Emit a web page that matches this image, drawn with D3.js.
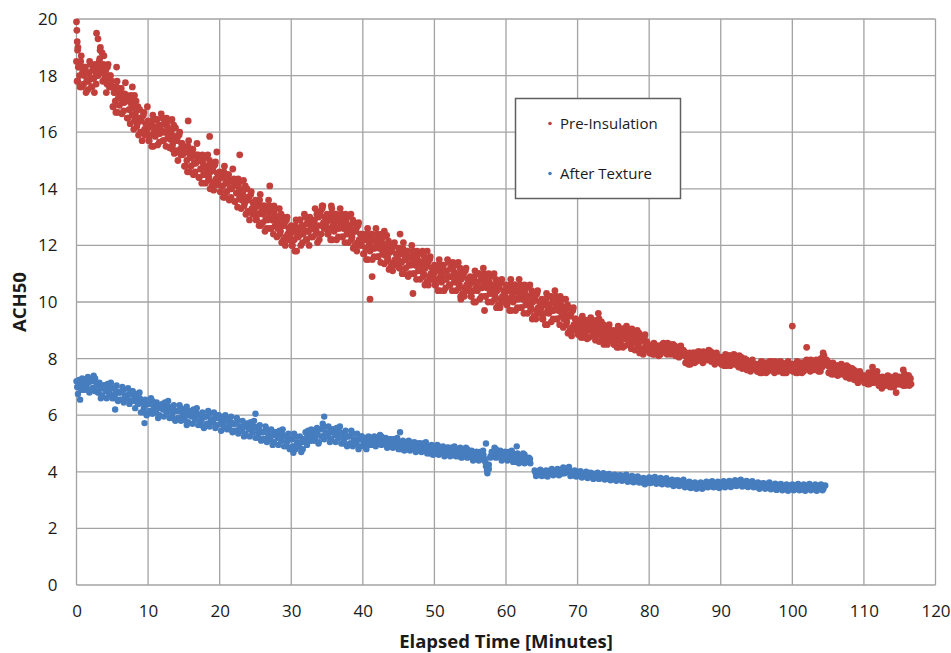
<!DOCTYPE html>
<html>
<head>
<meta charset="utf-8">
<script src="https://cdn.jsdelivr.net/npm/d3@7/dist/d3.min.js"></script>
<style>
html,body{margin:0;padding:0;background:#fff;}
svg{display:block;}
text{font-family:"Open Sans","Noto Sans",sans-serif;fill:#1a1a1a;}
</style>
</head>
<body>
<svg id="chart" width="951" height="653"></svg>
<script>
// ---- tick labels ----
const xTicks = [0,10,20,30,40,50,60,70,80,90,100,110,120];
const yTicks = [0,2,4,6,8,10,12,14,16,18,20];
const seriesNames = ["Pre-Insulation","After Texture"];

// ---- Pre-Insulation readings, batch A: one row per elapsed minute (row index = minute) ----
const preRowsA = [
[18.5,17.8,18.3,17.6,18.7,18.1],
[17.7,18.3,17.4,18.1,17.8,18.5],
[18.4,17.6,17.9,17.4,18.1,18.3],
[18.0,18.5,19.0,18.2,17.8,18.7],
[18.1,17.4,18.3,17.8,18.0,17.6],
[17.6,16.9,17.4,16.7,17.8,17.2],
[16.95,17.55,16.65,17.35,17.05,17.75],
[17.3,16.5,16.8,16.3,17.0,17.2],
[16.1,16.6,17.1,16.3,15.9,16.8],
[16.4,15.7,16.6,16.1,16.3,15.9],
[16.4,15.7,16.2,15.5,16.6,16.0],
[15.85,16.45,15.55,16.25,15.95,16.65],
[16.5,15.7,16.0,15.5,16.2,16.4],
[15.45,15.95,16.45,15.65,15.25,16.15],
[15.7,15.0,15.9,15.4,15.6,15.2],
[15.5,14.8,15.3,14.6,15.7,15.1],
[14.8,15.4,14.5,15.2,14.9,15.6],
[15.2,14.4,14.7,14.2,14.9,15.1],
[14.2,14.7,15.2,14.4,14.0,14.9],
[14.65,13.95,14.85,14.35,14.55,14.15],
[14.6,13.9,14.4,13.7,14.8,14.2],
[13.9,14.5,13.6,14.3,14.0,14.7],
[14.35,13.55,13.85,13.35,14.05,14.25],
[13.3,13.8,14.3,13.5,13.1,14.0],
[13.6,12.9,13.8,13.3,13.5,13.1],
[13.6,12.9,13.4,12.7,13.8,13.2],
[12.8,13.4,12.5,13.2,12.9,13.6],
[13.4,12.6,12.9,12.4,13.1,13.3],
[12.3,12.8,13.3,12.5,12.1,13.0],
[12.7,12.0,12.9,12.4,12.6,12.2],
[12.7,12.0,12.5,11.8,12.9,12.3],
[12.3,12.9,12.0,12.7,12.4,13.1],
[13.0,12.2,12.5,12.0,12.7,12.9],
[12.3,12.8,13.3,12.5,12.1,13.0],
[13.1,12.4,13.3,12.8,13.0,12.6],
[13.1,12.4,12.9,12.2,13.3,12.7],
[12.5,13.1,12.2,12.9,12.6,13.3],
[13.1,12.3,12.6,12.1,12.8,13.0],
[12.1,12.6,13.1,12.3,11.9,12.8],
[12.5,11.8,12.7,12.2,12.4,12.0],
[12.4,11.7,12.2,11.5,12.6,12.0],
[11.8,12.4,11.5,12.2,11.9,12.6],
[12.4,11.6,11.9,11.4,12.1,12.3],
[11.35,11.85,12.35,11.55,11.15,12.05],
[11.8,11.1,12.0,11.5,11.7,11.3],
[11.9,11.2,11.7,11.0,12.1,11.5],
[11.2,11.8,10.9,11.6,11.3,12.0],
[11.8,11.0,11.3,10.8,11.5,11.7],
[10.8,11.3,11.8,11.0,10.6,11.5],
[11.3,10.6,11.5,11.0,11.2,10.8],
[11.3,10.6,11.1,10.4,11.5,10.9],
[10.7,11.3,10.4,11.1,10.8,11.5],
[11.4,10.6,10.9,10.4,11.1,11.3],
[10.4,10.9,11.4,10.6,10.2,11.1],
[10.9,10.2,11.1,10.6,10.8,10.4],
[10.9,10.2,10.7,10.0,11.1,10.5],
[10.4,11.0,10.1,10.8,10.5,11.2],
[11.0,10.2,10.5,10.0,10.7,10.9],
[10.0,10.5,11.0,10.2,9.8,10.7],
[10.5,9.8,10.7,10.2,10.4,10.0],
[10.6,9.9,10.4,9.7,10.8,10.2],
[10.0,10.6,9.7,10.4,10.1,10.8],
[10.6,9.8,10.1,9.6,10.3,10.5],
[9.6,10.1,10.6,9.8,9.4,10.3],
[10.1,9.4,10.3,9.8,10.0,9.6],
[10.1,9.4,9.9,9.2,10.3,9.7],
[9.6,10.2,9.3,10.0,9.7,10.4],
[10.2,9.4,9.7,9.2,9.9,10.1],
[9.1,9.6,10.1,9.3,8.9,9.8],
[9.5,8.8,9.7,9.2,9.4,9.0],
[9.35,8.85,9.25,8.75,9.5,9.05],
[8.9,9.35,8.7,9.2,9.0,9.45],
[9.35,8.8,9.0,8.65,9.15,9.25],
[8.6,8.95,9.3,8.75,8.5,9.1],
[9.0,8.5,9.1,8.8,8.95,8.65],
[9.0,8.5,8.9,8.4,9.15,8.7],
[8.6,9.05,8.4,8.9,8.7,9.15],
[9.05,8.5,8.7,8.35,8.85,8.95],
[8.3,8.65,9.0,8.45,8.2,8.8],
[8.65,8.15,8.75,8.45,8.6,8.3],
[8.45,8.2,8.4,8.15,8.55,8.3],
[8.2,8.45,8.1,8.35,8.3,8.5],
[8.55,8.25,8.35,8.15,8.45,8.5],
[8.15,8.35,8.5,8.25,8.1,8.4],
[8.35,8.05,8.4,8.2,8.3,8.15],
[8.1,7.85,8.05,7.8,8.2,7.95],
[7.95,8.2,7.85,8.1,8.05,8.25],
[8.25,7.95,8.05,7.85,8.15,8.2],
[7.95,8.15,8.3,8.05,7.9,8.2],
[8.1,7.8,8.15,7.95,8.05,7.9],
[8.05,7.8,8.0,7.75,8.15,7.9],
[7.85,8.1,7.75,8.0,7.95,8.15],
[8.1,7.8,7.9,7.7,8.0,8.05],
[7.65,7.85,8.0,7.75,7.6,7.9],
[7.85,7.55,7.9,7.7,7.8,7.65],
[7.8,7.55,7.75,7.5,7.9,7.65],
[7.6,7.85,7.5,7.75,7.7,7.9],
[7.9,7.6,7.7,7.5,7.8,7.85],
[7.55,7.75,7.9,7.65,7.5,7.8],
[7.8,7.5,7.85,7.65,7.75,7.6],
[7.8,7.55,7.75,7.5,7.9,7.65],
[7.6,7.85,7.5,7.75,7.7,7.9],
[7.95,7.65,7.75,7.55,7.85,7.9],
[7.6,7.8,7.95,7.7,7.55,7.85],
[8.0,7.7,8.05,7.85,7.95,7.8],
[7.75,7.5,7.7,7.45,7.85,7.6],
[7.5,7.75,7.4,7.65,7.6,7.8],
[7.75,7.45,7.55,7.35,7.65,7.7],
[7.3,7.5,7.65,7.4,7.25,7.55],
[7.45,7.15,7.5,7.3,7.4,7.25],
[7.4,7.15,7.35,7.1,7.5,7.25],
[7.25,7.5,7.15,7.4,7.35,7.55],
[7.35,7.05,7.15,6.95,7.25,7.3],
[7.05,7.25,7.4,7.15,7.0,7.3],
[7.3,7.0,7.35,7.15,7.25,7.1],
[7.35,7.1,7.3,7.05,7.45,7.2],
[7.15,7.4,7.05,7.3]
];
// ---- Pre-Insulation readings, batch B (taken between the batch A readings) ----
const preRowsB = [
[17.8,18.3,18.0,18.5,17.6,18.3],
[18.0,18.3,17.8,17.5,18.1,17.9],
[17.6,18.2,17.9,18.4,17.7,18.0],
[18.3,18.6,18.1,18.8,18.4,17.9],
[18.2,17.7,18.4,17.6,18.0,17.8],
[16.9,17.4,17.1,17.6,16.7,17.4],
[17.25,17.55,17.05,16.75,17.35,17.15],
[16.5,17.1,16.8,17.3,16.6,16.9],
[16.4,16.7,16.2,16.9,16.5,16.0],
[16.5,16.0,16.7,15.9,16.3,16.1],
[15.7,16.2,15.9,16.4,15.5,16.2],
[16.15,16.45,15.95,15.65,16.25,16.05],
[15.7,16.3,16.0,16.5,15.8,16.1],
[15.75,16.05,15.55,16.25,15.85,15.35],
[15.8,15.3,16.0,15.2,15.6,15.4],
[14.8,15.3,15.0,15.5,14.6,15.3],
[15.1,15.4,14.9,14.6,15.2,15.0],
[14.4,15.0,14.7,15.2,14.5,14.8],
[14.5,14.8,14.3,15.0,14.6,14.1],
[14.75,14.25,14.95,14.15,14.55,14.35],
[13.9,14.4,14.1,14.6,13.7,14.4],
[14.2,14.5,14.0,13.7,14.3,14.1],
[13.55,14.15,13.85,14.35,13.65,13.95],
[13.6,13.9,13.4,14.1,13.7,13.2],
[13.7,13.2,13.9,13.1,13.5,13.3],
[12.9,13.4,13.1,13.6,12.7,13.4],
[13.1,13.4,12.9,12.6,13.2,13.0],
[12.6,13.2,12.9,13.4,12.7,13.0],
[12.6,12.9,12.4,13.1,12.7,12.2],
[12.8,12.3,13.0,12.2,12.6,12.4],
[12.0,12.5,12.2,12.7,11.8,12.5],
[12.6,12.9,12.4,12.1,12.7,12.5],
[12.2,12.8,12.5,13.0,12.3,12.6],
[12.6,12.9,12.4,13.1,12.7,12.2],
[13.2,12.7,13.4,12.6,13.0,12.8],
[12.4,12.9,12.6,13.1,12.2,12.9],
[12.8,13.1,12.6,12.3,12.9,12.7],
[12.3,12.9,12.6,13.1,12.4,12.7],
[12.4,12.7,12.2,12.9,12.5,12.0],
[12.6,12.1,12.8,12.0,12.4,12.2],
[11.7,12.2,11.9,12.4,11.5,12.2],
[12.1,12.4,11.9,11.6,12.2,12.0],
[11.6,12.2,11.9,12.4,11.7,12.0],
[11.65,11.95,11.45,12.15,11.75,11.25],
[11.9,11.4,12.1,11.3,11.7,11.5],
[11.2,11.7,11.4,11.9,11.0,11.7],
[11.5,11.8,11.3,11.0,11.6,11.4],
[11.0,11.6,11.3,11.8,11.1,11.4],
[11.1,11.4,10.9,11.6,11.2,10.7],
[11.4,10.9,11.6,10.8,11.2,11.0],
[10.6,11.1,10.8,11.3,10.4,11.1],
[11.0,11.3,10.8,10.5,11.1,10.9],
[10.6,11.2,10.9,11.4,10.7,11.0],
[10.7,11.0,10.5,11.2,10.8,10.3],
[11.0,10.5,11.2,10.4,10.8,10.6],
[10.2,10.7,10.4,10.9,10.0,10.7],
[10.7,11.0,10.5,10.2,10.8,10.6],
[10.2,10.8,10.5,11.0,10.3,10.6],
[10.3,10.6,10.1,10.8,10.4,9.9],
[10.6,10.1,10.8,10.0,10.4,10.2],
[9.9,10.4,10.1,10.6,9.7,10.4],
[10.3,10.6,10.1,9.8,10.4,10.2],
[9.8,10.4,10.1,10.6,9.9,10.2],
[9.9,10.2,9.7,10.4,10.0,9.5],
[10.2,9.7,10.4,9.6,10.0,9.8],
[9.4,9.9,9.6,10.1,9.2,9.9],
[9.9,10.2,9.7,9.4,10.0,9.8],
[9.4,10.0,9.7,10.2,9.5,9.8],
[9.4,9.7,9.2,9.9,9.5,9.0],
[9.6,9.1,9.8,9.0,9.4,9.2],
[8.85,9.2,9.0,9.35,8.75,9.25],
[9.1,9.35,9.0,8.75,9.2,9.05],
[8.8,9.2,9.0,9.35,8.85,9.05],
[8.85,9.05,8.7,9.2,8.9,8.55],
[9.05,8.7,9.2,8.65,8.9,8.8],
[8.5,8.85,8.65,9.0,8.4,8.9],
[8.8,9.05,8.7,8.45,8.9,8.75],
[8.5,8.9,8.7,9.05,8.55,8.75],
[8.55,8.75,8.4,8.9,8.6,8.25],
[8.7,8.35,8.85,8.3,8.55,8.45],
[8.2,8.4,8.3,8.45,8.15,8.4],
[8.35,8.45,8.3,8.15,8.4,8.3],
[8.25,8.45,8.35,8.55,8.3,8.4],
[8.25,8.4,8.2,8.45,8.3,8.1],
[8.35,8.2,8.45,8.15,8.3,8.25],
[7.85,8.05,7.95,8.1,7.8,8.05],
[8.1,8.2,8.05,7.9,8.15,8.05],
[7.95,8.15,8.05,8.25,8.0,8.1],
[8.05,8.2,8.0,8.25,8.1,7.9],
[8.1,7.95,8.2,7.9,8.05,8.0],
[7.8,8.0,7.9,8.05,7.75,8.0],
[8.0,8.1,7.95,7.8,8.05,7.95],
[7.8,8.0,7.9,8.1,7.85,7.95],
[7.75,7.9,7.7,7.95,7.8,7.6],
[7.85,7.7,7.95,7.65,7.8,7.75],
[7.55,7.75,7.65,7.8,7.5,7.75],
[7.75,7.85,7.7,7.55,7.8,7.7],
[7.6,7.8,7.7,7.9,7.65,7.75],
[7.65,7.8,7.6,7.85,7.7,7.5],
[7.8,7.65,7.9,7.6,7.75,7.7],
[7.55,7.75,7.65,7.8,7.5,7.75],
[7.75,7.85,7.7,7.55,7.8,7.7],
[7.65,7.85,7.75,7.95,7.7,7.8],
[7.7,7.85,7.65,7.9,7.75,7.55],
[8.0,7.85,8.1,7.8,7.95,7.9],
[7.5,7.7,7.6,7.75,7.45,7.7],
[7.65,7.75,7.6,7.45,7.7,7.6],
[7.45,7.65,7.55,7.75,7.5,7.6],
[7.4,7.55,7.35,7.6,7.45,7.25],
[7.45,7.3,7.55,7.25,7.4,7.35],
[7.15,7.35,7.25,7.4,7.1,7.35],
[7.4,7.5,7.35,7.2,7.45,7.35],
[7.05,7.25,7.15,7.35,7.1,7.2],
[7.15,7.3,7.1,7.35,7.2,7.0],
[7.3,7.15,7.4,7.1,7.25,7.2],
[7.1,7.3,7.2,7.35,7.05,7.3],
[7.3,7.4,7.25,7.1]
];
// isolated Pre-Insulation readings [minute, ACH50]
const preExtra = [
[0.0,19.9],[0.05,19.6],[0.1,19.2],[0.15,18.9],[0.2,19.0],[2.8,19.5],[3.0,19.3],[3.3,18.9],
[5.6,18.3],[7.8,17.6],[8.1,17.3],[9.9,16.9],[11.7,16.2],[13.4,15.4],[15.6,16.4],[18.6,15.85],
[19.6,15.3],[22.8,15.2],[27.0,14.1],[34.3,13.4],[35.6,13.4],[36.1,13.0],[41.0,10.1],[41.3,10.9],
[47.0,10.3],[45.2,12.4],[43.0,12.5],[49.0,11.8],[53.7,10.1],[57.0,9.7],[72.9,9.6],[73.0,9.4],
[100.0,9.15],[102.0,8.4],[114.5,6.8],[104.3,8.2],[111.2,7.7],[115.5,7.6]
];

// ---- After Texture readings, batch A: one row per elapsed minute ----
const afterRowsA = [
[7.2,6.75,7.05,6.9,7.3],
[6.9,7.25,7.05,7.35,6.8],
[7.2,6.95,7.4,6.85,7.1],
[6.8,7.15,6.6,6.95,7.05],
[7.05,6.6,6.9,6.75,7.15],
[6.6,6.95,6.75,7.05,6.5],
[6.8,6.55,7.0,6.45,6.7],
[6.6,6.95,6.4,6.75,6.85],
[6.7,6.25,6.55,6.4,6.8],
[6.1,6.45,6.25,6.55,6.0],
[6.4,6.15,6.6,6.05,6.3],
[6.1,6.45,5.9,6.25,6.35],
[6.4,5.95,6.25,6.1,6.5],
[5.9,6.25,6.05,6.35,5.8],
[6.15,5.9,6.35,5.8,6.05],
[5.85,6.2,5.65,6.0,6.1],
[6.15,5.7,6.0,5.85,6.25],
[5.65,6.0,5.8,6.1,5.55],
[5.95,5.7,6.15,5.6,5.85],
[5.75,6.1,5.55,5.9,6.0],
[5.9,5.45,5.75,5.6,6.0],
[5.5,5.85,5.65,5.95,5.4],
[5.7,5.45,5.9,5.35,5.6],
[5.45,5.8,5.25,5.6,5.7],
[5.7,5.25,5.55,5.4,5.8],
[5.2,5.55,5.35,5.65,5.1],
[5.4,5.15,5.6,5.05,5.3],
[5.15,5.5,4.95,5.3,5.4],
[5.4,4.95,5.25,5.1,5.5],
[4.9,5.25,5.05,5.35,4.8],
[5.15,4.9,5.35,4.8,5.05],
[4.9,5.25,4.7,5.05,5.15],
[5.4,4.95,5.25,5.1,5.5],
[5.1,5.45,5.25,5.55,5.0],
[5.5,5.25,5.7,5.15,5.4],
[5.25,5.6,5.05,5.4,5.5],
[5.5,5.05,5.35,5.2,5.6],
[5.0,5.35,5.15,5.45,4.9],
[5.25,5.0,5.45,4.9,5.15],
[5.0,5.35,4.8,5.15,5.25],
[5.2,4.9,5.1,4.95,5.25],
[4.95,5.2,5.05,5.25,4.9],
[5.15,5.0,5.3,4.95,5.1],
[5.0,5.2,4.85,5.1,5.15],
[5.15,4.85,5.05,4.9,5.2],
[4.8,5.05,4.9,5.1,4.75],
[4.95,4.8,5.1,4.75,4.9],
[4.85,5.05,4.7,4.95,5.0],
[5.0,4.7,4.9,4.75,5.05],
[4.65,4.9,4.75,4.95,4.6],
[4.8,4.65,4.95,4.6,4.75],
[4.7,4.9,4.55,4.8,4.85],
[4.85,4.55,4.75,4.6,4.9],
[4.55,4.8,4.65,4.85,4.5],
[4.7,4.55,4.85,4.5,4.65],
[4.55,4.75,4.4,4.65,4.7],
[4.7,4.4,4.6,4.45,4.75],
[4.45,4.2,3.95,4.1,4.5],
[4.7,4.55,4.85,4.5,4.65],
[4.55,4.75,4.4,4.65,4.7],
[4.7,4.4,4.6,4.45,4.75],
[4.35,4.6,4.45,4.65,4.3],
[4.5,4.35,4.65,4.3,4.45],
[4.35,4.5,4.3],
[4.05,3.85,4.0,3.9,4.07],
[3.85,4.0,3.9,4.05,3.83],
[4.03,3.93,4.1,3.88,3.98],
[3.95,4.1,3.88,4.02,4.07],
[4.15,3.95,4.1,4.0,4.17],
[3.85,4.0,3.9,4.05,3.83],
[3.95,3.85,4.02,3.8,3.9],
[3.85,4.0,3.78,3.92,3.97],
[3.95,3.75,3.9,3.8,3.97],
[3.75,3.9,3.8,3.95,3.73],
[3.85,3.75,3.92,3.7,3.8],
[3.75,3.9,3.68,3.82,3.87],
[3.88,3.68,3.83,3.73,3.9],
[3.65,3.8,3.7,3.85,3.63],
[3.77,3.67,3.84,3.62,3.72],
[3.63,3.78,3.56,3.7,3.75],
[3.8,3.6,3.75,3.65,3.82],
[3.58,3.73,3.63,3.78,3.56],
[3.7,3.6,3.77,3.55,3.65],
[3.57,3.72,3.5,3.64,3.69],
[3.7,3.5,3.65,3.55,3.72],
[3.45,3.6,3.5,3.65,3.43],
[3.55,3.45,3.62,3.4,3.5],
[3.47,3.62,3.4,3.54,3.59],
[3.65,3.45,3.6,3.5,3.67],
[3.45,3.6,3.5,3.65,3.43],
[3.6,3.5,3.67,3.45,3.55],
[3.53,3.68,3.46,3.6,3.65],
[3.7,3.5,3.65,3.55,3.72],
[3.48,3.63,3.53,3.68,3.46],
[3.6,3.5,3.67,3.45,3.55],
[3.47,3.62,3.4,3.54,3.59],
[3.6,3.4,3.55,3.45,3.62],
[3.38,3.53,3.43,3.58,3.36],
[3.5,3.4,3.57,3.35,3.45],
[3.4,3.55,3.33,3.47,3.52],
[3.55,3.35,3.5,3.4,3.57],
[3.35,3.5,3.4,3.55,3.33],
[3.5,3.4,3.57,3.35,3.45],
[3.4,3.55,3.33,3.47,3.52],
[3.55,3.35,3.5]
];
// ---- After Texture readings, batch B ----
const afterRowsB = [
[7.0,7.25,6.9,7.1],[7.25,6.9,7.15,6.85],[7.2,6.95,7.3,7.05],[6.8,6.95,6.7,7.05],
[6.85,7.1,6.75,6.95],[6.95,6.6,6.85,6.55],[6.8,6.55,6.9,6.65],[6.6,6.75,6.5,6.85],
[6.5,6.75,6.4,6.6],[6.45,6.1,6.35,6.05],[6.4,6.15,6.5,6.25],[6.1,6.25,6.0,6.35],
[6.2,6.45,6.1,6.3],[6.25,5.9,6.15,5.85],[6.15,5.9,6.25,6.0],[5.85,6.0,5.75,6.1],
[5.95,6.2,5.85,6.05],[6.0,5.65,5.9,5.6],[5.95,5.7,6.05,5.8],[5.75,5.9,5.65,6.0],
[5.7,5.95,5.6,5.8],[5.85,5.5,5.75,5.45],[5.7,5.45,5.8,5.55],[5.45,5.6,5.35,5.7],
[5.5,5.75,5.4,5.6],[5.55,5.2,5.45,5.15],[5.4,5.15,5.5,5.25],[5.15,5.3,5.05,5.4],
[5.2,5.45,5.1,5.3],[5.25,4.9,5.15,4.85],[5.15,4.9,5.25,5.0],[4.9,5.05,4.8,5.15],
[5.2,5.45,5.1,5.3],[5.45,5.1,5.35,5.05],[5.5,5.25,5.6,5.35],[5.25,5.4,5.15,5.5],
[5.3,5.55,5.2,5.4],[5.35,5.0,5.25,4.95],[5.25,5.0,5.35,5.1],[5.0,5.15,4.9,5.25],
[5.05,5.2,4.95,5.1],[5.2,4.95,5.15,5.0],[5.15,5.0,5.25,5.05],[5.0,5.1,4.9,5.15],
[5.0,5.15,4.9,5.05],[5.05,4.8,5.0,4.85],[4.95,4.8,5.05,4.85],[4.85,4.95,4.75,5.0],
[4.85,5.0,4.75,4.9],[4.9,4.65,4.85,4.7],[4.8,4.65,4.9,4.7],[4.7,4.8,4.6,4.85],
[4.7,4.85,4.6,4.75],[4.8,4.55,4.75,4.6],[4.7,4.55,4.8,4.6],[4.55,4.65,4.45,4.7],
[4.55,4.7,4.45,4.6],[4.35,4.05,4.25,4.55],[4.7,4.55,4.8,4.6],[4.55,4.65,4.45,4.7],
[4.55,4.7,4.45,4.6],[4.6,4.35,4.55,4.4],[4.5,4.35,4.6,4.4],[4.4,4.45],
[3.98,3.89,4.03,3.92],[3.91,3.99,3.87,4.01],[3.98,4.07,3.93,4.01],[4.06,3.91,4.02,3.94],
[4.08,3.99,4.13,4.02],[3.91,3.99,3.87,4.01],[3.9,3.99,3.85,3.93],[3.96,3.81,3.92,3.84],
[3.88,3.79,3.93,3.82],[3.81,3.89,3.77,3.91],[3.8,3.89,3.75,3.83],[3.86,3.71,3.82,3.74],
[3.81,3.72,3.86,3.75],[3.71,3.79,3.67,3.81],[3.72,3.81,3.67,3.75],[3.74,3.59,3.7,3.62],
[3.73,3.64,3.78,3.67],[3.64,3.72,3.6,3.74],[3.65,3.74,3.6,3.68],[3.68,3.53,3.64,3.56],
[3.63,3.54,3.68,3.57],[3.51,3.59,3.47,3.61],[3.5,3.59,3.45,3.53],[3.58,3.43,3.54,3.46],
[3.58,3.49,3.63,3.52],[3.51,3.59,3.47,3.61],[3.55,3.64,3.5,3.58],[3.64,3.49,3.6,3.52],
[3.63,3.54,3.68,3.57],[3.54,3.62,3.5,3.64],[3.55,3.64,3.5,3.58],[3.58,3.43,3.54,3.46],
[3.53,3.44,3.58,3.47],[3.44,3.52,3.4,3.54],[3.45,3.54,3.4,3.48],[3.51,3.36,3.47,3.39],
[3.48,3.39,3.53,3.42],[3.41,3.49,3.37,3.51],[3.45,3.54,3.4,3.48],[3.51,3.36,3.47,3.39],
[3.48,3.4,3.52]
];
const afterExtra = [
[0.5,6.55],[5.4,6.2],[9.5,5.72],[15.4,6.3],[25.0,6.05],[30.3,4.67],[34.6,5.95],[45.2,5.4],
[57.2,5.0],[61.5,4.9],[40.5,4.8]
];

const colors = {"Pre-Insulation":"#c2403c","After Texture":"#467dbf"};

// reading k of minute m is taken at m + start + k/n
function flatten(rows, n, start){
  const pts = [];
  rows.forEach((row, m) => row.forEach((v, k) => pts.push([m + start + k / n, v])));
  return pts;
}
const prePts = flatten(preRowsA, 6, 0).concat(flatten(preRowsB, 6, 1/12), preExtra);
const afterPts = flatten(afterRowsA, 5, 0).concat(flatten(afterRowsB, 4, 0.1), afterExtra);

const svg = d3.select("#chart");
const L = 76.5, R = 935.5, T = 19, B = 585;
const x = d3.scaleLinear().domain([0,120]).range([L,R]);
const y = d3.scaleLinear().domain([0,20]).range([B,T]);

const gridColor = "#a3a3a3";
svg.append("g").selectAll("line").data(xTicks).join("line")
  .attr("x1", d=>x(d)).attr("x2", d=>x(d)).attr("y1", T).attr("y2", B)
  .attr("stroke", gridColor).attr("stroke-width", 1.3);
svg.append("g").selectAll("line").data(yTicks).join("line")
  .attr("x1", L).attr("x2", R).attr("y1", d=>y(d)).attr("y2", d=>y(d))
  .attr("stroke", gridColor).attr("stroke-width", 1.3);

const xAxis = svg.append("g").attr("transform", `translate(0,${B})`)
  .call(d3.axisBottom(x).tickValues(xTicks).tickSize(0).tickPadding(20));
xAxis.select(".domain").remove();
xAxis.selectAll("text").attr("font-size", 17).attr("fill", "#1a1a1a")
  .style("font-family", '"Open Sans","Noto Sans",sans-serif');

const yAxis = svg.append("g").attr("transform", `translate(${L},0)`)
  .call(d3.axisLeft(y).tickValues(yTicks).tickSize(0).tickPadding(19));
yAxis.select(".domain").remove();
yAxis.selectAll("text").attr("font-size", 17).attr("fill", "#1a1a1a")
  .style("font-family", '"Open Sans","Noto Sans",sans-serif');

function drawPts(pts, color, r){
  svg.append("g").selectAll("circle").data(pts).join("circle")
    .attr("cx", d=>x(d[0])).attr("cy", d=>y(d[1])).attr("r", r)
    .attr("fill", color);
}
drawPts(prePts, colors["Pre-Insulation"], 3.4);
drawPts(afterPts, colors["After Texture"], 3.2);

svg.append("text").attr("x", (L+R)/2).attr("y", 648)
  .attr("text-anchor", "middle").attr("font-size", 18.5).attr("font-weight", "bold")
  .text("Elapsed Time [Minutes]");
svg.append("text").attr("transform", `translate(26,${(T+B)/2}) rotate(-90)`)
  .attr("text-anchor", "middle").attr("font-size", 18.5).attr("font-weight", "bold")
  .text("ACH50");

const lg = svg.append("g");
lg.append("rect").attr("x", 515.5).attr("y", 98.5).attr("width", 165).attr("height", 100)
  .attr("fill", "#fff").attr("stroke", "#606060").attr("stroke-width", 1.5);
seriesNames.forEach((s, i) => {
  const cy = 123.5 + i * 50;
  lg.append("circle").attr("cx", 550).attr("cy", cy).attr("r", 1.8).attr("fill", colors[s]);
  lg.append("text").attr("x", 560).attr("y", cy + 5.5).attr("font-size", 15).text(s);
});
</script>
</body>
</html>
